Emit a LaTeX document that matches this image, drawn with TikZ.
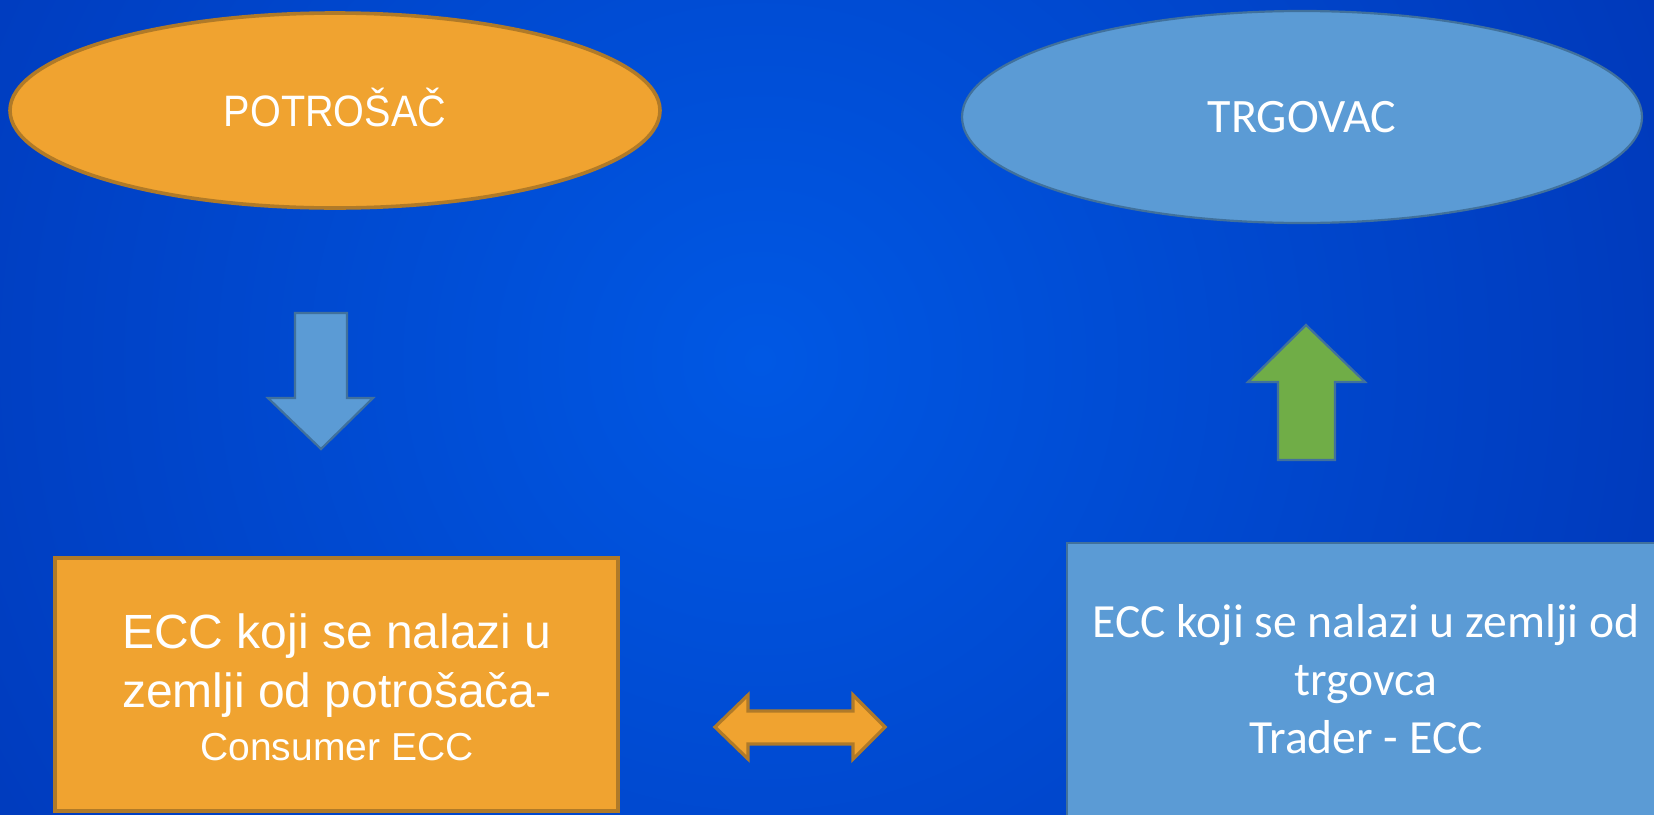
\documentclass[tikz,border=0pt]{standalone}
\usepackage{fontspec}
\setmainfont{Carlito}
\newfontfamily\leftfont{Liberation Sans}
\newfontfamily\titlefont[FakeStretch=0.9]{Liberation Sans}
\usetikzlibrary{shapes.geometric}
\definecolor{bgin}{RGB}{0,88,228}
\definecolor{bgout}{RGB}{0,30,150}
\definecolor{orfill}{RGB}{240,163,48}
\definecolor{ordraw}{RGB}{176,122,40}
\definecolor{blfill}{RGB}{91,155,213}
\definecolor{bldraw}{RGB}{65,113,156}
\definecolor{grfill}{RGB}{112,173,71}
\tikzset{
  orshape/.style={fill=orfill,draw=ordraw,line width=1.8pt},
  blshape/.style={fill=blfill,draw=bldraw,line width=1.1pt},
  grshape/.style={fill=grfill,draw=bldraw,line width=1.1pt},
  whitetext/.style={text=white,align=center,inner sep=0pt}
}
\begin{document}
\begin{tikzpicture}[x=0.5pt,y=-0.5pt]
\useasboundingbox (0,0) rectangle (1654,814);
\clip (0,0) rectangle (1654,814);
% background
\shade[inner color=bgin,outer color=bgout] (-1040,-1440) rectangle (2560,2160);
% ellipses
\node[orshape,ellipse,minimum width=325pt,minimum height=97.5pt,whitetext,
      font=\titlefont\fontsize{22}{26}\selectfont,text height=15.8pt,text depth=0pt]
      (cons) at (335,110.5) {POTROŠAČ};
\node[blshape,ellipse,minimum width=340pt,minimum height=106pt,whitetext,
      font=\fontsize{24}{28}\selectfont,text height=15.4pt,text depth=0pt]
      (trad) at (1302,117) {TRGOVAC};
% boxes
\node[orshape,rectangle,minimum width=281.5pt,minimum height=126.5pt] (cecc) at (336.5,684.5) {};
\node[whitetext,font=\leftfont\fontsize{24}{29.5}\selectfont,anchor=base]
      (cecctext) at (337,760) {ECC koji se nalazi u\\ zemlji od potrošača-\\[-3pt]{\fontsize{19.5}{24}\selectfont Consumer ECC}};
\node[blshape,rectangle,minimum width=299pt,minimum height=143.5pt] (tecc) at (1366,686.5) {};
\node[whitetext,font=\fontsize{23.8}{29}\selectfont,anchor=base]
      (tecctext) at (1366,753) {ECC koji se nalazi u zemlji od\\ trgovca\\ Trader - ECC};
% block arrows
\draw[blshape,line join=miter] (295,313) -- (347,313) -- (347,398) -- (373,398) -- (321,449)
      -- (268,398) -- (295,398) -- cycle;
\draw[grshape,line join=miter] (1278,460) -- (1335,460) -- (1335,382) -- (1365,382) -- (1306,325)
      -- (1248,382) -- (1278,382) -- cycle;
\draw[orshape,line width=1.6pt,line join=miter] (715,727) -- (748,695) -- (748,711) -- (853,711) -- (853,695)
      -- (885,727) -- (853,759) -- (853,744) -- (748,744) -- (748,759) -- cycle;
\end{tikzpicture}
\end{document}
